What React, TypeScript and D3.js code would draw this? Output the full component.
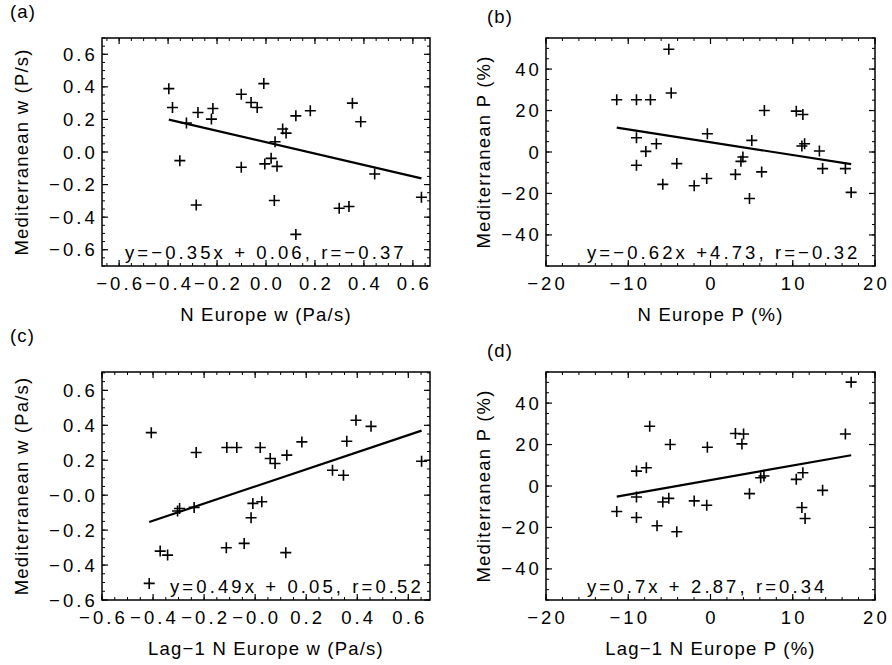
import React from "react";
import * as d3 from "d3";

const W = 892;
const H = 665;
const FONT = "'Liberation Sans', Arial, Helvetica, sans-serif";

// (a) N Europe w vs Mediterranean w
const aX = [-0.397, -0.382, -0.325, -0.352, -0.285, -0.278, -0.217, -0.223, -0.101, -0.101, -0.061, -0.036, -0.005, -0.009, 0.068, 0.082, 0.037, 0.021, 0.045, 0.034, 0.122, 0.181, 0.122, 0.353, 0.387, 0.299, 0.339, 0.444, 0.635];
const aY = [0.389, 0.273, 0.178, -0.053, -0.325, 0.243, 0.267, 0.202, 0.355, -0.094, 0.304, 0.273, -0.073, 0.42, 0.141, 0.116, 0.063, -0.039, -0.088, -0.298, 0.222, 0.253, -0.506, 0.3, 0.186, -0.345, -0.335, -0.135, -0.278];

// (b) N Europe P vs Mediterranean P
const bX = [-11.4, -9.0, -7.3, -5.07, -4.78, -9.0, -7.86, -6.58, -9.0, -4.1, -5.8, -1.98, -0.46, -0.38, 3.03, 3.94, 3.7, 5.02, 4.74, 6.22, 6.55, 10.43, 11.23, 11.44, 11.11, 13.24, 13.63, 16.4, 17.1];
const bY = [25.2, 25.2, 25.2, 49.6, 28.5, 6.9, 0.3, 4.0, -6.4, -5.6, -15.6, -16.3, -12.8, 8.8, -10.8, -2.4, -4.5, 5.6, -22.4, -9.6, 20.0, 19.7, 18.1, 4.0, 2.9, 0.5, -8.0, -8.0, -19.5];

// (c) lag-1 N Europe w vs Mediterranean w
const cX = [-0.407, -0.415, -0.231, -0.111, -0.072, 0.02, -0.296, -0.304, -0.239, -0.372, -0.343, -0.113, -0.043, -0.016, -0.009, 0.026, 0.059, 0.078, 0.124, 0.183, 0.12, 0.303, 0.346, 0.359, 0.395, 0.454, 0.652];
const cY = [0.358, -0.505, 0.244, 0.273, 0.273, 0.273, -0.076, -0.091, -0.07, -0.32, -0.343, -0.301, -0.276, -0.129, -0.047, -0.038, 0.21, 0.181, 0.229, 0.305, -0.329, 0.143, 0.114, 0.309, 0.429, 0.394, 0.194];

// (d) lag-1 N Europe P vs Mediterranean P
const dX = [-11.4, -9.0, -7.8, -7.39, -4.9, -9.0, -9.0, -6.5, -5.8, -5.07, -4.1, -1.98, -0.46, -0.38, 3.03, 4.02, 3.82, 4.74, 6.1, 6.5, 10.43, 11.23, 11.11, 11.5, 13.63, 16.4, 17.1];
const dY = [-12.3, 7.2, 8.8, 28.8, 20.0, -5.3, -15.2, -19.2, -7.7, -5.95, -22.1, -7.2, -9.3, 18.7, 25.3, 25.1, 20.3, -3.7, 4.0, 4.8, 3.2, 6.4, -10.4, -15.7, -2.1, 25.1, 50.1];

// fits: [slope, intercept]
const aFit = [-0.35, 0.06];
const bFit = [-0.62, 4.73];
const cFit = [0.49, 0.05];
const dFit = [0.7, 2.87];

const wTicks = [-0.6, -0.4, -0.2, 0, 0.2, 0.4, 0.6];
const wLabels = ["\u22120.6", "\u22120.4", "\u22120.2", "0.0", "0.2", "0.4", "0.6"];
const wLabelsNeg0 = ["\u22120.6", "\u22120.4", "\u22120.2", "\u22120.0", "0.2", "0.4", "0.6"];
const pxTicks = [-20, -10, 0, 10, 20];
const pxLabels = ["\u221220", "\u221210", "0", "10", "20"];
const pyTicks = [-40, -20, 0, 20, 40];
const pyLabels = ["\u221240", "\u221220", "0", "20", "40"];

const panels = [
  {
    tag: "(a)", xs: aX, ys: aY, fit: aFit,
    xDomain: [-0.67, 0.67], yDomain: [-0.7, 0.7],
    xTicks: wTicks, xLabels: wLabels, yTicks: wTicks, yLabels: wLabels,
    xMinor: 0.05, yMinor: 0.05,
    eq: "y=\u22120.35x + 0.06, r=\u22120.37",
    xTitle: "N Europe w (Pa/s)", yTitle: "Mediterranean w (P/s)",
    box: [102, 430, 38, 266], eqDx: 23, tagPos: [10, 18], yTitleX: 28,
  },
  {
    tag: "(b)", xs: bX, ys: bY, fit: bFit,
    xDomain: [-20, 20], yDomain: [-55, 55],
    xTicks: pxTicks, xLabels: pxLabels, yTicks: pyTicks, yLabels: pyLabels,
    xMinor: 2, yMinor: 5,
    eq: "y=\u22120.62x +4.73, r=\u22120.32",
    xTitle: "N Europe P (%)", yTitle: "Mediterranean P (%)",
    box: [546, 875, 38, 266], eqDx: 41, tagPos: [487, 23], yTitleX: 490,
  },
  {
    tag: "(c)", xs: cX, ys: cY, fit: cFit,
    xDomain: [-0.6, 0.685], yDomain: [-0.6, 0.705],
    xTicks: wTicks, xLabels: wLabelsNeg0, yTicks: wTicks, yLabels: wLabelsNeg0,
    xMinor: 0.05, yMinor: 0.05,
    eq: "y=0.49x + 0.05, r=0.52",
    xTitle: "Lag\u22121 N Europe w (Pa/s)", yTitle: "Mediterranean w (Pa/s)",
    box: [102, 430, 372, 600], eqDx: 68, tagPos: [10, 342], yTitleX: 28,
  },
  {
    tag: "(d)", xs: dX, ys: dY, fit: dFit,
    xDomain: [-20, 20], yDomain: [-55, 55],
    xTicks: pxTicks, xLabels: pxLabels, yTicks: pyTicks, yLabels: pyLabels,
    xMinor: 2, yMinor: 5,
    eq: "y=0.7x + 2.87, r=0.34",
    xTitle: "Lag\u22121 N Europe P (%)", yTitle: "Mediterranean P (%)",
    box: [546, 875, 372, 600], eqDx: 41, tagPos: [487, 357], yTitleX: 490,
  },
];

const minorTicks = (domain, step) =>
  d3.range(Math.ceil(domain[0] / step - 1e-9), Math.floor(domain[1] / step + 1e-9) + 1).map((i) => i * step);

function Panel({ p }) {
  const [l, r, t, b] = p.box;
  const x = d3.scaleLinear().domain(p.xDomain).range([l, r]);
  const y = d3.scaleLinear().domain(p.yDomain).range([b, t]);
  const major = 6;
  const minor = 3;

  const [x0, x1] = d3.extent(p.xs);
  const line = d3
    .line()
    .x((d) => x(d))
    .y((d) => y(p.fit[0] * d + p.fit[1]));

  const tickStyle = { fontFamily: FONT, fontSize: 18.5, letterSpacing: 3.1 };
  const titleStyle = { fontFamily: FONT, fontSize: 18.5, letterSpacing: 1.2 };

  return (
    <g>
      <text x={p.tagPos[0]} y={p.tagPos[1]} style={titleStyle}>
        {p.tag}
      </text>

      {/* minor ticks on all four sides, pointing in */}
      {minorTicks(p.xDomain, p.xMinor).map((v, i) => (
        <g key={"xm" + i} stroke="#000" strokeWidth={1}>
          <line x1={x(v)} x2={x(v)} y1={b} y2={b - minor} />
          <line x1={x(v)} x2={x(v)} y1={t} y2={t + minor} />
        </g>
      ))}
      {minorTicks(p.yDomain, p.yMinor).map((v, i) => (
        <g key={"ym" + i} stroke="#000" strokeWidth={1}>
          <line x1={l} x2={l + minor} y1={y(v)} y2={y(v)} />
          <line x1={r} x2={r - minor} y1={y(v)} y2={y(v)} />
        </g>
      ))}
      {p.xTicks.map((v, i) => (
        <g key={"xt" + i}>
          <line x1={x(v)} x2={x(v)} y1={b} y2={b - major} stroke="#000" strokeWidth={1.2} />
          <line x1={x(v)} x2={x(v)} y1={t} y2={t + major} stroke="#000" strokeWidth={1.2} />
          <text x={x(v) + 1.5} y={b + 24} textAnchor="middle" style={tickStyle}>
            {p.xLabels[i]}
          </text>
        </g>
      ))}
      {p.yTicks.map((v, i) => (
        <g key={"yt" + i}>
          <line x1={l} x2={l + major} y1={y(v)} y2={y(v)} stroke="#000" strokeWidth={1.2} />
          <line x1={r} x2={r - major} y1={y(v)} y2={y(v)} stroke="#000" strokeWidth={1.2} />
          <text x={l - 4} y={y(v) + 6.5} textAnchor="end" style={tickStyle}>
            {p.yLabels[i]}
          </text>
        </g>
      ))}

      <rect x={l} y={t} width={r - l} height={b - t} fill="none" stroke="#000" strokeWidth={1.5} />

      {p.xs.map((v, i) => {
        const cx = x(v);
        const cy = y(p.ys[i]);
        return (
          <path
            key={"pt" + i}
            d={`M${cx - 5.5},${cy}h11M${cx},${cy - 5.5}v11`}
            stroke="#000"
            strokeWidth={1.6}
            fill="none"
          />
        );
      })}

      <path d={line([x0, x1])} stroke="#000" strokeWidth={2.2} fill="none" />

      <text x={l + p.eqDx} y={b - 7} style={tickStyle}>
        {p.eq}
      </text>

      <text x={(l + r) / 2} y={b + 55} textAnchor="middle" style={titleStyle}>
        {p.xTitle}
      </text>
      <text
        transform={`translate(${p.yTitleX},${(t + b) / 2}) rotate(-90)`}
        textAnchor="middle"
        style={titleStyle}
      >
        {p.yTitle}
      </text>
    </g>
  );
}

export default function App() {
  return (
    <>
      <style>{"html,body{margin:0;padding:0;background:#fff}"}</style>
      <svg width={W} height={H} viewBox={`0 0 ${W} ${H}`} style={{ display: "block", background: "#fff" }}>
        <rect width={W} height={H} fill="#fff" />
        {panels.map((p) => (
          <Panel key={p.tag} p={p} />
        ))}
      </svg>
    </>
  );
}
